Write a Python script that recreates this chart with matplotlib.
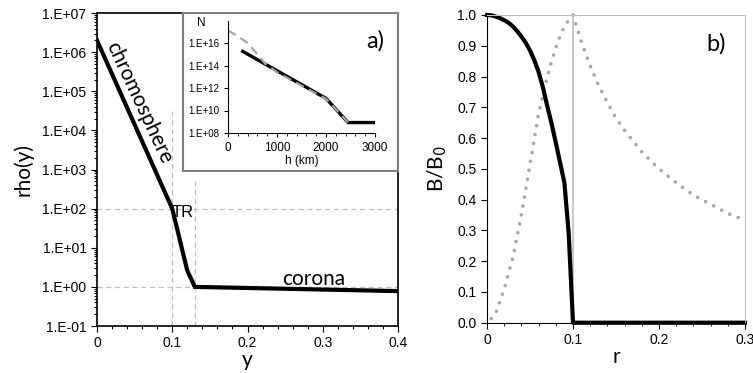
import math
import matplotlib.pyplot as plt
from matplotlib.ticker import MultipleLocator, LogLocator, NullFormatter, FixedLocator

plt.rcParams['font.family'] = ['Liberation Sans', 'DejaVu Sans']

# panel a: density profile rho(y)
y_pos = [0.0, 0.1, 0.105, 0.11, 0.115, 0.12, 0.13, 0.4]
rho = [2.0e6, 100, 40, 16, 6.4, 2.6, 1.0, 0.78]

# inset: model vs observed number density N(h)
h_model = [300, 2000, 2450, 3000]
n_model = [1.8e15, 1.2e11, 8.5e8, 8.5e8]
h_obs = [0, 200, 400, 600, 750, 1000, 1400, 1800, 2000, 2200, 2450]
n_obs = [1.3e17, 4.0e16, 1.0e16, 1.0e15, 1.6e14, 2.5e13, 2.8e12, 3.2e11, 1.1e11, 1.3e10, 8.5e8]

# panel b: magnetic field profiles
r_axial = [0, 0.005, 0.01, 0.015, 0.02, 0.025, 0.03, 0.035, 0.04, 0.045, 0.05, 0.055,
           0.06, 0.065, 0.07, 0.075, 0.08, 0.085, 0.09, 0.095, 0.1, 0.3]
b_axial = [1.0, 0.999, 0.995, 0.99, 0.983, 0.975, 0.963, 0.948, 0.93, 0.91, 0.885, 0.853,
           0.815, 0.765, 0.705, 0.648, 0.585, 0.52, 0.455, 0.29, 0.0, 0.0]
r_azim = [0.005, 0.01, 0.02, 0.03, 0.04, 0.05, 0.06, 0.07, 0.08, 0.09, 0.1,
          0.11, 0.12, 0.13, 0.14, 0.15, 0.16, 0.18, 0.2, 0.22, 0.24, 0.26, 0.28, 0.3]
b_azim = [0.013, 0.03, 0.11, 0.21, 0.35, 0.515, 0.68, 0.80, 0.895, 0.965, 1.0,
          0.91, 0.835, 0.77, 0.715, 0.665, 0.625, 0.555, 0.5, 0.455, 0.415, 0.385, 0.355, 0.333]

grey = '#bfbfbf'
label_font = ['Lato', 'DejaVu Sans']


def exp_label(v, pos):
    return '1.E%+03d' % round(math.log10(v))


fig = plt.figure(figsize=(7.53, 3.73), dpi=100)

# ---- left panel
ax = fig.add_axes([0.1288, 0.126, 0.3998, 0.839])
ax.set_yscale('log')
ax.set_xlim(0, 0.4)
ax.set_ylim(0.1, 1e7)
ax.axhline(100, color=grey, lw=0.9, ls=(0, (4, 3)))
ax.axhline(1, color=grey, lw=0.9, ls=(0, (4, 3)))
ax.plot([0.1, 0.1], [0.1, 3.8e4], color=grey, lw=0.9, ls=(0, (4, 3)))
ax.plot([0.13, 0.13], [0.1, 6.2e2], color=grey, lw=0.9, ls=(0, (4, 3)))
ax.plot(y_pos, rho, color='black', lw=3, solid_joinstyle='miter')
ax.xaxis.set_major_locator(MultipleLocator(0.1))
ax.xaxis.set_minor_locator(MultipleLocator(0.02))
ax.xaxis.set_major_formatter(lambda v, p: '0' if v == 0 else f'{v:.1f}')
ax.yaxis.set_major_locator(LogLocator(base=10, numticks=20))
ax.yaxis.set_minor_locator(LogLocator(base=10, subs=range(2, 10), numticks=20))
ax.yaxis.set_minor_formatter(NullFormatter())
ax.yaxis.set_major_formatter(exp_label)
ax.tick_params(which='both', direction='out', labelsize=10, width=0.8)
ax.tick_params(which='major', length=4)
ax.tick_params(which='minor', length=2)
for s in ax.spines.values():
    s.set_linewidth(1.2)
ax.set_ylabel('rho(y)', fontsize=15, family=label_font, labelpad=6)
ax.set_xlabel('y', fontsize=15, family=label_font, labelpad=0)
ax.text(0.056, 5.1e4, 'chromosphere', rotation=-65, ha='center', va='center',
        rotation_mode='anchor', fontsize=15, family=label_font)
ax.text(0.114, 78, 'TR', ha='center', va='center', fontsize=12)
ax.text(0.288, 1.12, 'corona', ha='center', va='baseline', fontsize=15, family=label_font)

# ---- inset frame and inset
frame = fig.add_axes([183 / 753, 1 - 171 / 373, 215 / 753, 158 / 373])
frame.set_xticks([])
frame.set_yticks([])
for s in frame.spines.values():
    s.set_edgecolor('#808080')
    s.set_linewidth(1.5)

ins = fig.add_axes([228 / 753, 1 - 133 / 373, 147 / 753, 112.5 / 373])
ins.set_yscale('log')
ins.set_xlim(0, 3000)
ins.set_ylim(1e8, 1e18)
ins.plot(h_model, n_model, color='black', lw=2.4)
ins.plot(h_obs, n_obs, color='#a6a6a6', lw=1.6, ls=(0, (4, 2.5)))
ins.spines['top'].set_visible(False)
ins.spines['right'].set_visible(False)
ins.xaxis.set_major_locator(MultipleLocator(1000))
ins.xaxis.set_minor_locator(MultipleLocator(200))
ins.yaxis.set_major_locator(FixedLocator([1e8, 1e10, 1e12, 1e14, 1e16]))
ins.yaxis.set_minor_locator(FixedLocator([]))
ins.yaxis.set_major_formatter(exp_label)
ins.tick_params(axis='y', labelsize=7, length=3, direction='out')
ins.tick_params(axis='x', labelsize=8.5, length=3, direction='out')
ins.tick_params(which='minor', length=2)
ins.set_xlabel('h (km)', fontsize=8.5, labelpad=1)
fig.text(201.5 / 753, 1 - 23.5 / 373, 'N', ha='center', va='center', fontsize=8.5)
fig.text(375 / 753, 1 - 41 / 373, 'a)', ha='center', va='center', fontsize=17, family=label_font)

# ---- right panel
bx = fig.add_axes([487 / 753, 1 - 322.7 / 373, 258 / 753, 307.7 / 373])
bx.set_xlim(0, 0.3)
bx.set_ylim(0, 1.0)
bx.plot([0.1, 0.1], [0, 1], color=grey, lw=1.2)
bx.plot(r_azim, b_azim, color='#a6a6a6', lw=2.6, ls=(0, (0.01, 2.5)),
        dash_capstyle='round', clip_on=False)
bx.plot(r_axial, b_axial, color='black', lw=3, clip_on=False)
bx.spines['top'].set_edgecolor(grey)
bx.spines['right'].set_edgecolor(grey)
bx.xaxis.set_major_locator(MultipleLocator(0.1))
bx.xaxis.set_minor_locator(MultipleLocator(0.02))
bx.xaxis.set_major_formatter(lambda v, p: '0' if v == 0 else f'{v:.1f}')
bx.yaxis.set_major_locator(MultipleLocator(0.1))
bx.yaxis.set_major_formatter(lambda v, p: f'{v:.1f}')
bx.tick_params(which='both', direction='out', labelsize=10)
bx.tick_params(which='major', length=4)
bx.tick_params(which='minor', length=2)
bx.set_ylabel('B/B$_0$', fontsize=15, family=label_font, labelpad=6)
bx.set_xlabel('r', fontsize=15, family=label_font, labelpad=0)
fig.text(716 / 753, 1 - 44 / 373, 'b)', ha='center', va='center', fontsize=17, family=label_font)

fig.savefig('out.png', dpi=100)
